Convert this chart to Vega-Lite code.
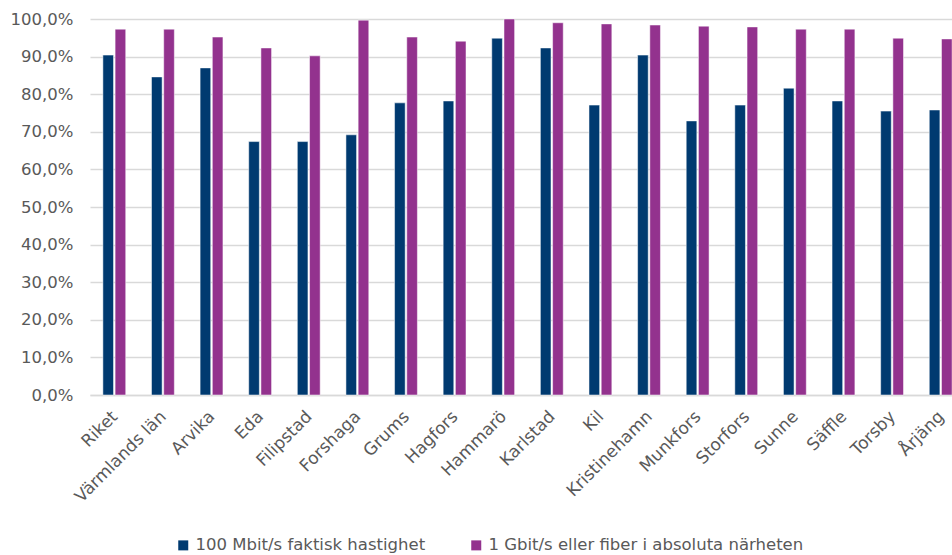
{
  "$schema": "https://vega.github.io/schema/vega-lite/v6.json",
  "autosize": {"type": "none"},
  "padding": {"left": 90, "top": 19, "right": 0, "bottom": 160},
  "width": 875,
  "height": 376,
  "background": "white",
  "config": {
    "font": "DejaVu Sans",
    "view": {"stroke": null}
  },
  "data": {
    "values": [
      {"kommun": "Riket", "serie": "100 Mbit/s faktisk hastighet", "v": 0.904},
      {"kommun": "Riket", "serie": "1 Gbit/s eller fiber i absoluta närheten", "v": 0.973},
      {"kommun": "Värmlands län", "serie": "100 Mbit/s faktisk hastighet", "v": 0.846},
      {"kommun": "Värmlands län", "serie": "1 Gbit/s eller fiber i absoluta närheten", "v": 0.973},
      {"kommun": "Arvika", "serie": "100 Mbit/s faktisk hastighet", "v": 0.870},
      {"kommun": "Arvika", "serie": "1 Gbit/s eller fiber i absoluta närheten", "v": 0.952},
      {"kommun": "Eda", "serie": "100 Mbit/s faktisk hastighet", "v": 0.674},
      {"kommun": "Eda", "serie": "1 Gbit/s eller fiber i absoluta närheten", "v": 0.923},
      {"kommun": "Filipstad", "serie": "100 Mbit/s faktisk hastighet", "v": 0.674},
      {"kommun": "Filipstad", "serie": "1 Gbit/s eller fiber i absoluta närheten", "v": 0.902},
      {"kommun": "Forshaga", "serie": "100 Mbit/s faktisk hastighet", "v": 0.692},
      {"kommun": "Forshaga", "serie": "1 Gbit/s eller fiber i absoluta närheten", "v": 0.997},
      {"kommun": "Grums", "serie": "100 Mbit/s faktisk hastighet", "v": 0.777},
      {"kommun": "Grums", "serie": "1 Gbit/s eller fiber i absoluta närheten", "v": 0.952},
      {"kommun": "Hagfors", "serie": "100 Mbit/s faktisk hastighet", "v": 0.782},
      {"kommun": "Hagfors", "serie": "1 Gbit/s eller fiber i absoluta närheten", "v": 0.941},
      {"kommun": "Hammarö", "serie": "100 Mbit/s faktisk hastighet", "v": 0.949},
      {"kommun": "Hammarö", "serie": "1 Gbit/s eller fiber i absoluta närheten", "v": 1.0},
      {"kommun": "Karlstad", "serie": "100 Mbit/s faktisk hastighet", "v": 0.923},
      {"kommun": "Karlstad", "serie": "1 Gbit/s eller fiber i absoluta närheten", "v": 0.990},
      {"kommun": "Kil", "serie": "100 Mbit/s faktisk hastighet", "v": 0.771},
      {"kommun": "Kil", "serie": "1 Gbit/s eller fiber i absoluta närheten", "v": 0.987},
      {"kommun": "Kristinehamn", "serie": "100 Mbit/s faktisk hastighet", "v": 0.904},
      {"kommun": "Kristinehamn", "serie": "1 Gbit/s eller fiber i absoluta närheten", "v": 0.984},
      {"kommun": "Munkfors", "serie": "100 Mbit/s faktisk hastighet", "v": 0.729},
      {"kommun": "Munkfors", "serie": "1 Gbit/s eller fiber i absoluta närheten", "v": 0.981},
      {"kommun": "Storfors", "serie": "100 Mbit/s faktisk hastighet", "v": 0.771},
      {"kommun": "Storfors", "serie": "1 Gbit/s eller fiber i absoluta närheten", "v": 0.979},
      {"kommun": "Sunne", "serie": "100 Mbit/s faktisk hastighet", "v": 0.816},
      {"kommun": "Sunne", "serie": "1 Gbit/s eller fiber i absoluta närheten", "v": 0.973},
      {"kommun": "Säffle", "serie": "100 Mbit/s faktisk hastighet", "v": 0.782},
      {"kommun": "Säffle", "serie": "1 Gbit/s eller fiber i absoluta närheten", "v": 0.973},
      {"kommun": "Torsby", "serie": "100 Mbit/s faktisk hastighet", "v": 0.755},
      {"kommun": "Torsby", "serie": "1 Gbit/s eller fiber i absoluta närheten", "v": 0.949},
      {"kommun": "Årjäng", "serie": "100 Mbit/s faktisk hastighet", "v": 0.758},
      {"kommun": "Årjäng", "serie": "1 Gbit/s eller fiber i absoluta närheten", "v": 0.947}
    ]
  },
  "mark": {"type": "bar", "stroke": "white", "strokeWidth": 0.5},
  "encoding": {
    "x": {
      "field": "kommun",
      "type": "nominal",
      "sort": null,
      "scale": {"paddingInner": 0.53, "paddingOuter": 0.265},
      "axis": {
        "title": null,
        "labelAngle": -45,
        "labelAlign": "right",
        "labelBaseline": "top",
        "labelFont": "DejaVu Sans",
        "labelFontSize": 17,
        "labelColor": "#595959",
        "labelPadding": 13,
        "labelOffset": -5,
        "ticks": false,
        "domainColor": "#d9d9d9",
        "domainWidth": 1.5,
        "labelOverlap": false,
        "labelLimit": 300
      }
    },
    "xOffset": {
      "field": "serie",
      "type": "nominal",
      "sort": ["100 Mbit/s faktisk hastighet", "1 Gbit/s eller fiber i absoluta närheten"],
      "scale": {"paddingInner": 0.13}
    },
    "y": {
      "field": "v",
      "type": "quantitative",
      "scale": {"domain": [0, 1], "nice": false},
      "axis": {
        "title": null,
        "values": [0, 0.1, 0.2, 0.3, 0.4, 0.5, 0.6, 0.7, 0.8, 0.9, 1.0],
        "labelExpr": "replace(format(datum.value, '.1%'), '.', ',')",
        "labelOverlap": false,
        "labelFont": "DejaVu Sans",
        "labelFontSize": 16.5,
        "labelColor": "#595959",
        "labelPadding": 17,
        "ticks": false,
        "domain": false,
        "gridColor": "#d9d9d9",
        "gridWidth": 1.5
      }
    },
    "color": {
      "field": "serie",
      "type": "nominal",
      "sort": ["100 Mbit/s faktisk hastighet", "1 Gbit/s eller fiber i absoluta närheten"],
      "scale": {
        "domain": ["100 Mbit/s faktisk hastighet", "1 Gbit/s eller fiber i absoluta närheten"],
        "range": ["#003A70", "#93328E"]
      },
      "legend": {
        "title": null,
        "orient": "none",
        "direction": "horizontal",
        "legendX": 85,
        "legendY": 518,
        "symbolType": "square",
        "symbolSize": 100,
        "symbolStrokeWidth": 0,
        "labelFont": "DejaVu Sans",
        "labelFontSize": 16.5,
        "labelColor": "#595959",
        "labelOffset": 4,
        "columnPadding": 42,
        "labelLimit": 400
      }
    }
  }
}
